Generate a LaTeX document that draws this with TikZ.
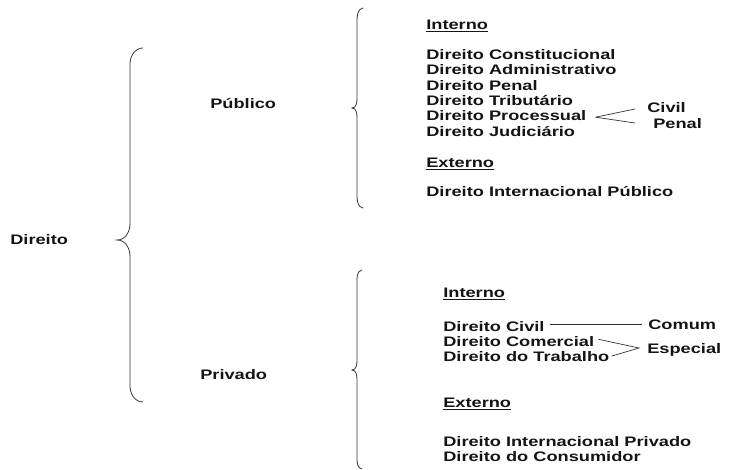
\documentclass[tikz,border=0pt]{standalone}
\usepackage{fontspec}
\setmainfont{Liberation Sans}[FakeStretch=1.32]
\usetikzlibrary{positioning}

\begin{document}
\begin{tikzpicture}[x=1pt,y=-1pt,semithick,node distance=2pt,
      entry/.style={anchor=west,inner sep=0pt,text height=9.9pt,text depth=2.8pt,
        font=\bfseries\fontsize{13.8}{15}\selectfont,text=black!92},
      stack/.style={below=of #1.south west,anchor=north west},
      brace/.style={draw=black!80,line width=0.8pt},
      link/.style={draw=black!80,line width=0.7pt}]
        \useasboundingbox (0,0) rectangle (730,470);
        % first level
        \node[entry] (dir)  at (10,241)  {Direito};
        \node[entry] (pub)  at (210,105) {Público};
        \node[entry] (priv) at (200,376) {Privado};
        \draw[brace] (143,48) to[out=180,in=90] (130,64) -- (130,224)
              to[out=-90,in=0] (117,240) to[out=0,in=90] (130,256)
              -- (130,386) to[out=-90,in=180] (143,402);
        % direito publico
        \draw[brace] (363,8) to[out=190,in=90] (357,22) -- (357,98)
              to[out=-90,in=0] (352,108) to[out=0,in=90] (357,118)
              -- (357,196) to[out=-90,in=170] (363,208);
        \node[entry] (pubint) at (426,26) {\underline{Interno}};
        \node[entry] (dcon) at (426,56) {Direito Constitucional};
        \node[entry] (dadm) [stack=dcon] {Direito Administrativo};
        \node[entry] (dpen) [stack=dadm] {Direito Penal};
        \node[entry] (dtri) [stack=dpen] {Direito Tributário};
        \node[entry] (dproc) [stack=dtri] {Direito Processual};
        \node[entry] (djud) [stack=dproc] {Direito Judiciário};
        \node[entry] (pubext) at (426,164) {\underline{Externo}};
        \node[entry] (dintpub) at (426,192.5) {Direito Internacional Público};
        \node[entry] (civ) at (647,109) {Civil};
        \node[entry] (pen) at (653,125) {Penal};
        \coordinate (ptip) at ([xshift=9pt]dproc.east);
        \draw[link] (ptip) -- ([xshift=-12pt]civ.west);
        \draw[link] (ptip) -- ([xshift=-18pt,yshift=2pt]pen.west);
        % direito privado
        \draw[brace] (362,270) to[out=190,in=90] (357,284) -- (357,360)
              to[out=-90,in=0] (352,370) to[out=0,in=90] (357,380)
              -- (357,458) to[out=-90,in=170] (362,469);
        \node[entry] (privint) at (443,294) {\underline{Interno}};
        \node[entry] (dciv) at (443,327.5) {Direito Civil};
        \node[entry] (dcom) [stack=dciv] {Direito Comercial};
        \node[entry] (dtrab) [stack=dcom] {Direito do Trabalho};
        \node[entry] (privext) at (443,404) {\underline{Externo}};
        \node[entry] (dintpriv) at (443,442.5) {Direito Internacional Privado};
        \node[entry] (dcons) [stack=dintpriv] {Direito do Consumidor};
        \node[entry] (com) at (648,326) {Comum};
        \node[entry] (esp) at (647,350) {Especial};
        \draw[link] ([xshift=5pt,yshift=3.5pt]dciv.east) -- ([xshift=-6pt,yshift=2pt]com.west);
        \coordinate (etip) at ([xshift=-8pt,yshift=2pt]esp.west);
        \draw[link] ([xshift=4pt,yshift=3.5pt]dcom.east) -- (etip)
              -- ([xshift=2pt,yshift=2pt]dtrab.east);
    \end{tikzpicture}
\end{document}
